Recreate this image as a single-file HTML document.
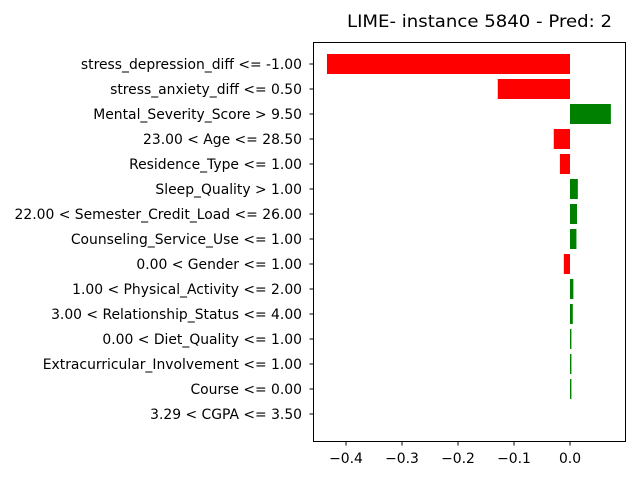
<!DOCTYPE html>
<html><head><meta charset="utf-8"><style>
body{margin:0;background:#fff}
svg text{font-family:"DejaVu Sans","Liberation Sans",sans-serif;font-size:13.9px;fill:#000}
</style></head><body>
<svg width="640" height="480">
<text x="479.5" y="27" text-anchor="middle" textLength="265" lengthAdjust="spacingAndGlyphs" style="font-size:16.7px">LIME- instance 5840 - Pred: 2</text>
<g id="bars"></g>
<g id="ylabels"></g>
<g id="xticks"></g>
<rect x="313.5" y="42.5" width="312" height="399" fill="none" stroke="#000" stroke-width="1"/>
</svg>
<script>
const categories=["stress_depression_diff <= -1.00","stress_anxiety_diff <= 0.50","Mental_Severity_Score > 9.50","23.00 < Age <= 28.50","Residence_Type <= 1.00","Sleep_Quality > 1.00","22.00 < Semester_Credit_Load <= 26.00","Counseling_Service_Use <= 1.00","0.00 < Gender <= 1.00","1.00 < Physical_Activity <= 2.00","3.00 < Relationship_Status <= 4.00","0.00 < Diet_Quality <= 1.00","Extracurricular_Involvement <= 1.00","Course <= 0.00","3.29 < CGPA <= 3.50"];
const values=[-0.434,-0.129,0.073,-0.029,-0.018,0.014,0.0125,0.0115,-0.011,0.006,0.005,0.0025,0.0025,0.0025,0];
const tickValues=[-0.4,-0.3,-0.2,-0.1,0.0];
const tickLabels=["\u22120.4","\u22120.3","\u22120.2","\u22120.1","0.0"];
const NS="http://www.w3.org/2000/svg";
const x=v=>570+v*560;
const y=i=>64+i*25;
const gb=document.getElementById('bars'),gl=document.getElementById('ylabels'),gt=document.getElementById('xticks');
categories.forEach((c,i)=>{
  const v=values[i];
  const r=document.createElementNS(NS,'rect');
  r.setAttribute('x',Math.min(x(0),x(v)));r.setAttribute('width',Math.abs(x(v)-x(0)));
  r.setAttribute('y',y(i)-10);r.setAttribute('height',20);
  r.setAttribute('fill',v<0?'#ff0000':'#008000');
  
  
  gb.appendChild(r);
  const t=document.createElementNS(NS,'text');
  t.setAttribute('x',302);t.setAttribute('y',y(i)+5);t.setAttribute('text-anchor','end');
  t.textContent=c;
  
  
  gl.appendChild(t);
  const tk=document.createElementNS(NS,'line');
  tk.setAttribute('x1',309.5);tk.setAttribute('x2',313.5);tk.setAttribute('y1',y(i));tk.setAttribute('y2',y(i));tk.setAttribute('stroke','#000');
  
  
  gl.appendChild(tk);
});
tickValues.forEach((v,i)=>{
  const l=document.createElementNS(NS,'line');
  l.setAttribute('x1',x(v));l.setAttribute('x2',x(v));l.setAttribute('y1',441.5);l.setAttribute('y2',445.5);l.setAttribute('stroke','#000');
  
  
  gt.appendChild(l);
  const t=document.createElementNS(NS,'text');
  t.setAttribute('x',x(v));t.setAttribute('y',463);t.setAttribute('text-anchor','middle');
  t.textContent=tickLabels[i];
  
  
  gt.appendChild(t);
});
</script>
</body></html>
